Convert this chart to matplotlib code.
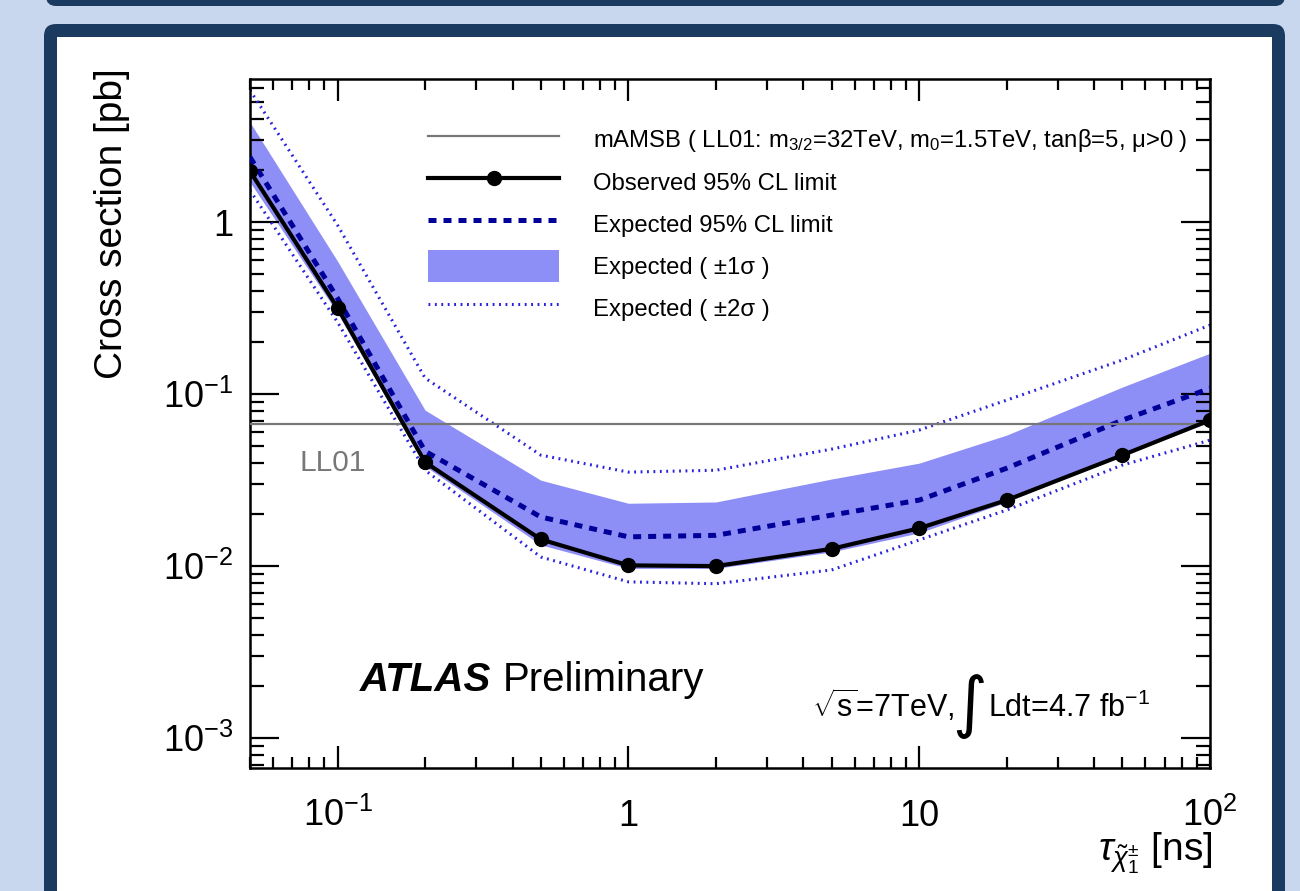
import numpy as np
import matplotlib
matplotlib.use("Agg")
import matplotlib.pyplot as plt
from matplotlib.patches import FancyBboxPatch, Rectangle
from matplotlib.ticker import LogLocator, NullFormatter, FixedLocator

plt.rcParams['font.family'] = ['Liberation Sans', 'DejaVu Sans']
plt.rcParams['mathtext.fontset'] = 'custom'
plt.rcParams['mathtext.rm'] = 'Liberation Sans'
plt.rcParams['mathtext.it'] = 'Liberation Sans:italic'
plt.rcParams['mathtext.bf'] = 'Liberation Sans:bold'
plt.rcParams['mathtext.sf'] = 'Liberation Sans'

# ---------------- data ----------------
tau = [0.05, 0.1, 0.2, 0.5, 1, 2, 5, 10, 20, 50, 100]
observed = [1.98, 0.318, 0.0402, 0.0143, 0.0101, 0.0100, 0.0126, 0.0166, 0.0242, 0.0442, 0.0706]
expected = [2.39, 0.361, 0.0466, 0.0193, 0.0148, 0.0151, 0.0198, 0.0242, 0.0371, 0.0706, 0.108]
exp_1s_hi = [3.81, 0.593, 0.0807, 0.0316, 0.0232, 0.0236, 0.0321, 0.0397, 0.0578, 0.110, 0.173]
exp_1s_lo = [1.71, 0.296, 0.0381, 0.0133, 0.0097, 0.0097, 0.0121, 0.0156, 0.0236, 0.0442, 0.0688]
exp_2s_hi = [5.85, 0.961, 0.124, 0.0442, 0.0352, 0.0361, 0.0479, 0.0618, 0.0923, 0.158, 0.252]
exp_2s_lo = [1.53, 0.262, 0.0361, 0.0113, 0.0081, 0.0079, 0.0095, 0.0142, 0.0212, 0.0387, 0.054]
mamsb_xsec = 0.067

xticks = [0.1, 1, 10, 100]
xticklabels = [r'$10^{-1}$', '1', '10', r'$10^{2}$']
yticks = [1e-3, 1e-2, 1e-1, 1]
yticklabels = [r'$10^{-3}$', r'$10^{-2}$', r'$10^{-1}$', '1']

legend_labels = [
    r'mAMSB ( LL01: m$_{3/2}$=32TeV, m$_{0}$=1.5TeV, tanβ=5, μ>0 )',
    'Observed 95% CL limit',
    'Expected 95% CL limit',
    'Expected ( ±1σ )',
    'Expected ( ±2σ )',
]

# ---------------- figure ----------------
W, H = 1300, 891
fig = plt.figure(figsize=(13, 8.91), dpi=100)
fig.patch.set_facecolor('#c9d7ee')
navy = '#1b3a60'

def px(x):
    return x / 100.0

def py(y):
    return (H - y) / 100.0

fig.add_artist(FancyBboxPatch((px(46), py(6)), px(1239), 0.5,
                              boxstyle='round,pad=0,rounding_size=0.1',
                              transform=fig.dpi_scale_trans, fc=navy, ec='none', zorder=-10))
fig.add_artist(FancyBboxPatch((px(44), -0.5), px(1241), py(24) + 0.5,
                              boxstyle='round,pad=0,rounding_size=0.12',
                              transform=fig.dpi_scale_trans, fc=navy, ec='none', zorder=-10))
fig.add_artist(Rectangle((px(57), -0.5), px(1215), py(37) + 0.5,
                         transform=fig.dpi_scale_trans, fc='white', ec='none', zorder=-9))

ax = fig.add_axes([250 / W, 1 - 768 / H, 960 / W, 689 / H])
ax.set_facecolor('none')
ax.set_xscale('log')
ax.set_yscale('log')
ax.set_xlim(0.05, 100)
ax.set_ylim(6.7e-4, 6.8)

dotc = '#2a22dd'
dotls = (0, (0.6, 1.5))
band = ax.fill_between(tau, exp_1s_lo, exp_1s_hi, color='#8e8ef7', lw=0, zorder=1)
l2hi, = ax.plot(tau, exp_2s_hi, color=dotc, lw=2.2, ls=dotls, zorder=2)
ax.plot(tau, exp_2s_lo, color=dotc, lw=2.2, ls=dotls, zorder=2)
lexp, = ax.plot(tau, expected, color='#000099', lw=3.6, ls=(0, (1.6, 1.4)), zorder=3)
lm = ax.axhline(mamsb_xsec, color='#777777', lw=1.6, zorder=4)
lobs, = ax.plot(tau, observed, color='black', lw=3.0, marker='o', ms=10, zorder=5)

# ticks
ax.xaxis.set_major_locator(FixedLocator(xticks))
ax.set_xticklabels(xticklabels)
ax.yaxis.set_major_locator(FixedLocator(yticks))
ax.set_yticklabels(yticklabels)
ax.xaxis.set_minor_locator(LogLocator(base=10, subs=np.arange(2, 10), numticks=20))
ax.yaxis.set_minor_locator(LogLocator(base=10, subs=np.arange(2, 10), numticks=20))
ax.xaxis.set_minor_formatter(NullFormatter())
ax.yaxis.set_minor_formatter(NullFormatter())
ax.tick_params(axis='both', which='both', direction='in', top=True, right=True,
               width=1.6, labelsize=26, colors='black')
ax.tick_params(axis='x', which='major', length=16, pad=42)
ax.tick_params(axis='x', which='minor', length=8)
ax.tick_params(axis='y', which='major', length=21, pad=12)
ax.tick_params(axis='y', which='minor', length=10)
for lab in ax.get_xticklabels():
    lab.set_verticalalignment('baseline')
for lab in ax.get_yticklabels():
    lab.set_verticalalignment('center_baseline')
for s in ax.spines.values():
    s.set_linewidth(1.8)

# legend
leg = ax.legend([lm, lobs, lexp, band, l2hi], legend_labels,
                loc='upper left', bbox_to_anchor=(0.1854, 0.935),
                frameon=False, fontsize=17.2, handlelength=5.5, handleheight=1.65,
                handletextpad=1.4, labelspacing=0.45, borderpad=0, borderaxespad=0,
                numpoints=1)

# texts
fig.text(112 / W, 1 - 68 / H, 'Cross section [pb]', rotation=90, ha='center', va='top', fontsize=28)
fig.text(1213 / W, 1 - 860 / H, r'$\tau_{\tilde{\chi}^{\pm}_{1}}$ [ns]', ha='right', va='baseline', fontsize=28)
ax.text((300 - 250) / 960, (768 - 471) / 689, 'LL01', transform=ax.transAxes, color='#777777',
        fontsize=21.5, ha='left', va='baseline')
fig.text(360 / W, 1 - 691 / H, 'ATLAS', fontsize=29, fontweight='bold', fontstyle='italic',
         ha='left', va='baseline')
fig.text(503 / W, 1 - 691 / H, 'Preliminary', fontsize=29, ha='left', va='baseline')
fig.text(812 / W, 1 - 717 / H, r'$\sqrt{\mathrm{s}}$=7TeV,', fontsize=22, ha='left', va='baseline')
fig.text(970 / W, 1 - 706 / H, '∫', fontsize=48, ha='center', va='center',
         family=['DejaVu Sans'])
fig.text(988 / W, 1 - 717 / H, r'Ldt=4.7 fb$^{-1}$', fontsize=22, ha='left', va='baseline')

fig.savefig('out.png', dpi=100, facecolor=fig.get_facecolor())
